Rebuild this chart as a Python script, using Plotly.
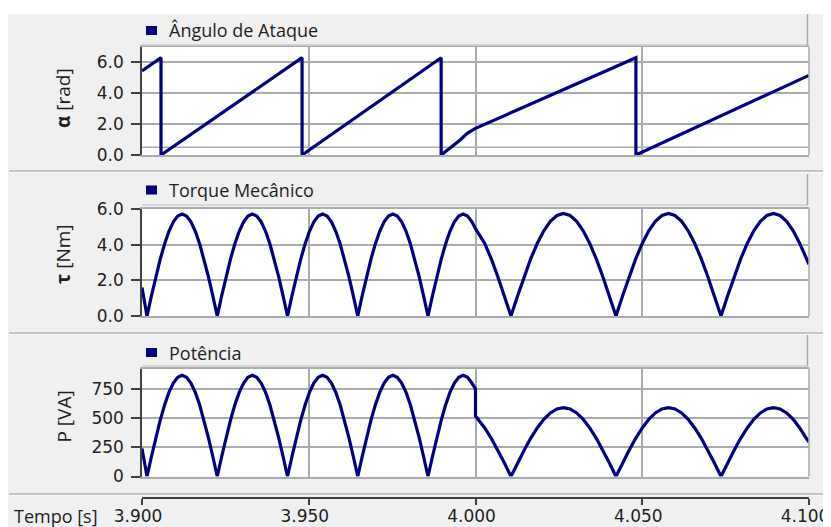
import plotly.graph_objects as go

# ---------------- data ----------------
# Ângulo de Ataque (rad) - sawtooth vertices
tempo_alpha = [3.9000, 3.9057, 3.9057, 3.9480, 3.9480, 3.9897, 3.9897,
               3.9924, 3.9954, 3.9975, 4.0000, 4.0481, 4.0481, 4.1000]
alpha = [5.43, 6.28, 0.00, 6.28, 0.00, 6.28, 0.00,
         0.43, 0.97, 1.40, 1.72, 6.28, 0.00, 5.14]

# Torque Mecânico (Nm) and Potência (VA)
tempo = [3.90000,
         3.90150, 3.90282, 3.90413, 3.90545, 3.90677, 3.90808, 3.90940, 3.91072,
         3.91203, 3.91335, 3.91467, 3.91598, 3.91730, 3.91862, 3.91993, 3.92125,
         3.92257, 3.92388, 3.92520, 3.92652, 3.92783, 3.92915, 3.93047, 3.93178,
         3.93310, 3.93441, 3.93573, 3.93705, 3.93836, 3.93968, 3.94100, 3.94231,
         3.94363, 3.94495, 3.94626, 3.94758, 3.94890, 3.95021, 3.95153, 3.95285,
         3.95416, 3.95548, 3.95680, 3.95811, 3.95943, 3.96075, 3.96206, 3.96338,
         3.96470, 3.96601, 3.96733, 3.96864, 3.96996, 3.97128, 3.97259, 3.97391,
         3.97523, 3.97654, 3.97786, 3.97918, 3.98049, 3.98181, 3.98313, 3.98444,
         3.98576, 3.98708, 3.98839, 3.98971, 3.99103, 3.99234, 3.99366, 3.99498,
         3.99629, 3.99761, 3.99893, 4.00000,
         4.00000, 4.00277, 4.00474, 4.00670, 4.00867,
         4.01064, 4.01261, 4.01458, 4.01654, 4.01851, 4.02048, 4.02245, 4.02442,
         4.02638, 4.02835, 4.03032, 4.03229, 4.03426, 4.03622, 4.03819, 4.04016,
         4.04212, 4.04409, 4.04606, 4.04803, 4.05000, 4.05196, 4.05393, 4.05590,
         4.05787, 4.05983, 4.06180, 4.06377, 4.06574, 4.06771, 4.06967, 4.07164,
         4.07361, 4.07558, 4.07755, 4.07951, 4.08148, 4.08345, 4.08542, 4.08739,
         4.08935, 4.09132, 4.09329, 4.09526, 4.09722, 4.09919, 4.10000]
torque = [1.60,
          0.00, 1.12, 2.19, 3.18, 4.04, 4.75, 5.28, 5.61,
          5.72, 5.61, 5.28, 4.75, 4.04, 3.18, 2.19, 1.12,
          0.00, 1.12, 2.19, 3.18, 4.04, 4.75, 5.28, 5.61,
          5.72, 5.61, 5.28, 4.75, 4.04, 3.18, 2.19, 1.12,
          0.00, 1.12, 2.19, 3.18, 4.04, 4.75, 5.28, 5.61,
          5.72, 5.61, 5.28, 4.75, 4.04, 3.18, 2.19, 1.12,
          0.00, 1.12, 2.19, 3.18, 4.04, 4.75, 5.28, 5.61,
          5.72, 5.61, 5.28, 4.75, 4.04, 3.18, 2.19, 1.12,
          0.00, 1.12, 2.19, 3.18, 4.04, 4.75, 5.28, 5.61,
          5.72, 5.61, 5.28, 4.90,
          4.90, 4.07, 3.20, 2.20, 1.12,
          0.00, 1.12, 2.20, 3.20, 4.07, 4.78, 5.31, 5.64,
          5.75, 5.64, 5.31, 4.78, 4.07, 3.20, 2.20, 1.12,
          0.00, 1.12, 2.20, 3.20, 4.07, 4.78, 5.31, 5.64,
          5.75, 5.64, 5.31, 4.78, 4.07, 3.20, 2.20, 1.12,
          0.00, 1.12, 2.20, 3.20, 4.07, 4.78, 5.31, 5.64,
          5.75, 5.64, 5.31, 4.78, 4.07, 3.20, 2.90]
potencia = [240,
            0, 169, 331, 481, 612, 720, 800, 850,
            866, 850, 800, 720, 612, 481, 331, 169,
            0, 169, 331, 481, 612, 720, 800, 850,
            866, 850, 800, 720, 612, 481, 331, 169,
            0, 169, 331, 481, 612, 720, 800, 850,
            866, 850, 800, 720, 612, 481, 331, 169,
            0, 169, 331, 481, 612, 720, 800, 850,
            866, 850, 800, 720, 612, 481, 331, 169,
            0, 169, 331, 481, 612, 720, 800, 850,
            866, 850, 800, 750,
            518, 416, 327, 225, 115,
            0, 115, 225, 327, 416, 489, 544, 578,
            589, 578, 544, 489, 416, 327, 225, 115,
            0, 115, 225, 327, 416, 489, 544, 578,
            589, 578, 544, 489, 416, 327, 225, 115,
            0, 115, 225, 327, 416, 489, 544, 578,
            589, 578, 544, 489, 416, 327, 295]

x_ticks = [3.90, 3.95, 4.00, 4.05, 4.10]
x_tick_text = ["3.900", "3.950", "4.000", "4.050", "4.100"]
ang_ticks = [0, 2, 4, 6]
ang_tick_text = ["0.0", "2.0", "4.0", "6.0"]
tq_ticks = [0, 2, 4, 6]
tq_tick_text = ["0.0", "2.0", "4.0", "6.0"]
pot_ticks = [0, 250, 500, 750]
pot_tick_text = ["0", "250", "500", "750"]

series_names = ["Ângulo de Ataque", "Torque Mecânico", "Potência"]
y_titles = ["<b>α</b> [rad]", "<b>τ</b> [Nm]", "P [VA]"]

# ---------------- layout helpers ----------------
# the page puts the figure 8 px in from the window's top-left corner
OFF = 8
W, H = 831 - OFF, 527 - OFF
def fx(p):
    return (p - OFF) / W
def fy(p):
    return 1 - (p - OFF) / H

LINE = "#000080"
GRID = "#ababab"
TXT = "#1e1e1e"
TICKFONT = dict(family="DejaVu Sans", size=17, color=TXT)
TEXTFONT = "Open Sans"

X0, X1 = 142, 809
panels = [  # (top px, bottom px) in window pixels
    (47, 155),
    (208.5, 316),
    (368.7, 476.5),
]
yranges = [[0, 6.97], [0, 6.03], [0, 923]]

fig = go.Figure()
fig.add_trace(go.Scatter(x=tempo_alpha, y=alpha, mode="lines", name=series_names[0],
                         line=dict(color=LINE, width=3.2), xaxis="x", yaxis="y"))
fig.add_trace(go.Scatter(x=tempo, y=torque, mode="lines", name=series_names[1],
                         line=dict(color=LINE, width=3.2), xaxis="x2", yaxis="y2"))
fig.add_trace(go.Scatter(x=tempo, y=potencia, mode="lines", name=series_names[2],
                         line=dict(color=LINE, width=3.2), xaxis="x3", yaxis="y3"))
# carrier for the shared time axis at the bottom
fig.add_trace(go.Scatter(x=[x_ticks[0], x_ticks[-1]], y=[None, None], mode="lines",
                         xaxis="x4", yaxis="y3", showlegend=False, hoverinfo="skip"))

layout = dict(
    template="none",
    width=W, height=H,
    margin=dict(l=0, r=0, t=0, b=0, pad=0, autoexpand=False),
    paper_bgcolor="#f0f0f0",
    plot_bgcolor="white",
    showlegend=False,
)

yt = [(ang_ticks, ang_tick_text), (tq_ticks, tq_tick_text), (pot_ticks, pot_tick_text)]
for i, (top, bot) in enumerate(panels):
    sfx = "" if i == 0 else str(i + 1)
    layout["xaxis" + sfx] = dict(
        domain=[fx(X0), fx(X1)], range=[x_ticks[0], x_ticks[-1]], automargin=False,
        anchor="y" + sfx, tickvals=x_ticks, showticklabels=False, ticks="",
        showgrid=True, gridcolor=GRID, gridwidth=1.5, zeroline=False,
        showline=True, linecolor=GRID, linewidth=1.5, mirror=True,
    )
    layout["yaxis" + sfx] = dict(
        domain=[fy(bot), fy(top)], range=yranges[i], automargin=False,
        anchor="x" + sfx, tickvals=yt[i][0], ticktext=yt[i][1],
        showgrid=True, gridcolor=GRID, gridwidth=1.5, zeroline=False,
        showline=True, linecolor="#404040", linewidth=1.5,
        ticks="outside", ticklen=9, tickwidth=1.5, tickcolor="#404040",
        tickfont=TICKFONT, ticklabelstandoff=4,
    )

layout["xaxis4"] = dict(
    overlaying="x3", anchor="free", position=fy(498), side="bottom", automargin=False,
    range=[x_ticks[0], x_ticks[-1]], tickvals=x_ticks, ticktext=x_tick_text,
    showgrid=False, zeroline=False, showline=True, linecolor="#404040", linewidth=1.5,
    ticks="outside", ticklen=6, tickwidth=1.5, tickcolor="#404040",
    tickfont=dict(family="DejaVu Sans", size=17, color=TXT),
    ticklabelshift=-4, ticklabelstandoff=-3, ticklabeloverflow="allow",
)

shapes = []
annotations = []
# white band above the graphs
shapes.append(dict(type="rect", xref="paper", yref="paper", x0=0, x1=1, y0=fy(14), y1=1,
                   fillcolor="white", line=dict(width=0), layer="below"))

# separators between graphs
for ysep in [171, 333, 494]:
    shapes.append(dict(type="line", xref="paper", yref="paper", x0=fx(9), x1=1,
                       y0=fy(ysep), y1=fy(ysep), line=dict(color="#c4c4c4", width=2)))
    shapes.append(dict(type="line", xref="paper", yref="paper", x0=fx(9), x1=1,
                       y0=fy(ysep + 1.5), y1=fy(ysep + 1.5), line=dict(color="#fafafa", width=1)))

legend_y = [30.5, 190, 352.5]
header = [(14, 45), (174, 205), (335, 366)]
title_y = [98, 254, 416.5]
for i, (top, bot) in enumerate(panels):
    h0, h1 = header[i]
    # header bar borders
    shapes.append(dict(type="line", xref="paper", yref="paper", x0=fx(X0), x1=fx(807.5),
                       y0=fy(h1), y1=fy(h1), line=dict(color="#cfcfcf", width=1.5)))
    shapes.append(dict(type="line", xref="paper", yref="paper", x0=fx(807.5), x1=fx(807.5),
                       y0=fy(h0), y1=fy(h1), line=dict(color="#a8a8a8", width=1.5)))
    # right border of plot area
    shapes.append(dict(type="line", xref="paper", yref="paper", x0=fx(X1), x1=fx(X1),
                       y0=fy(bot), y1=fy(top), line=dict(color=GRID, width=1.5)))
    # legend square
    ly = legend_y[i]
    shapes.append(dict(type="rect", xref="paper", yref="paper", x0=fx(146), x1=fx(157),
                       y0=fy(ly + 4.5), y1=fy(ly - 4.5), fillcolor=LINE, line=dict(width=0)))
    annotations.append(dict(text=series_names[i], xref="paper", yref="paper",
                            x=fx(167), y=fy(ly), xanchor="left", yanchor="middle",
                            showarrow=False, font=dict(family=TEXTFONT, size=18, color=TXT)))
    annotations.append(dict(text=y_titles[i], xref="paper", yref="paper",
                            x=fx(63), y=fy(title_y[i]), xanchor="center", yanchor="middle",
                            textangle=-90, showarrow=False,
                            font=dict(family=TEXTFONT, size=19, color=TXT)))

# extra lower grid line of the first graph
shapes.append(dict(type="line", xref="x", yref="y", x0=x_ticks[0], x1=x_ticks[-1],
                   y0=0.5, y1=0.5, line=dict(color=GRID, width=1.5), layer="below"))

annotations.append(dict(text="Tempo [s]", xref="paper", yref="paper",
                        x=fx(12), y=fy(515.5), xanchor="left", yanchor="middle",
                        showarrow=False, font=dict(family=TEXTFONT, size=18, color=TXT)))

layout["shapes"] = shapes
layout["annotations"] = annotations
fig.update_layout(**layout)
fig.write_html("out.html")
